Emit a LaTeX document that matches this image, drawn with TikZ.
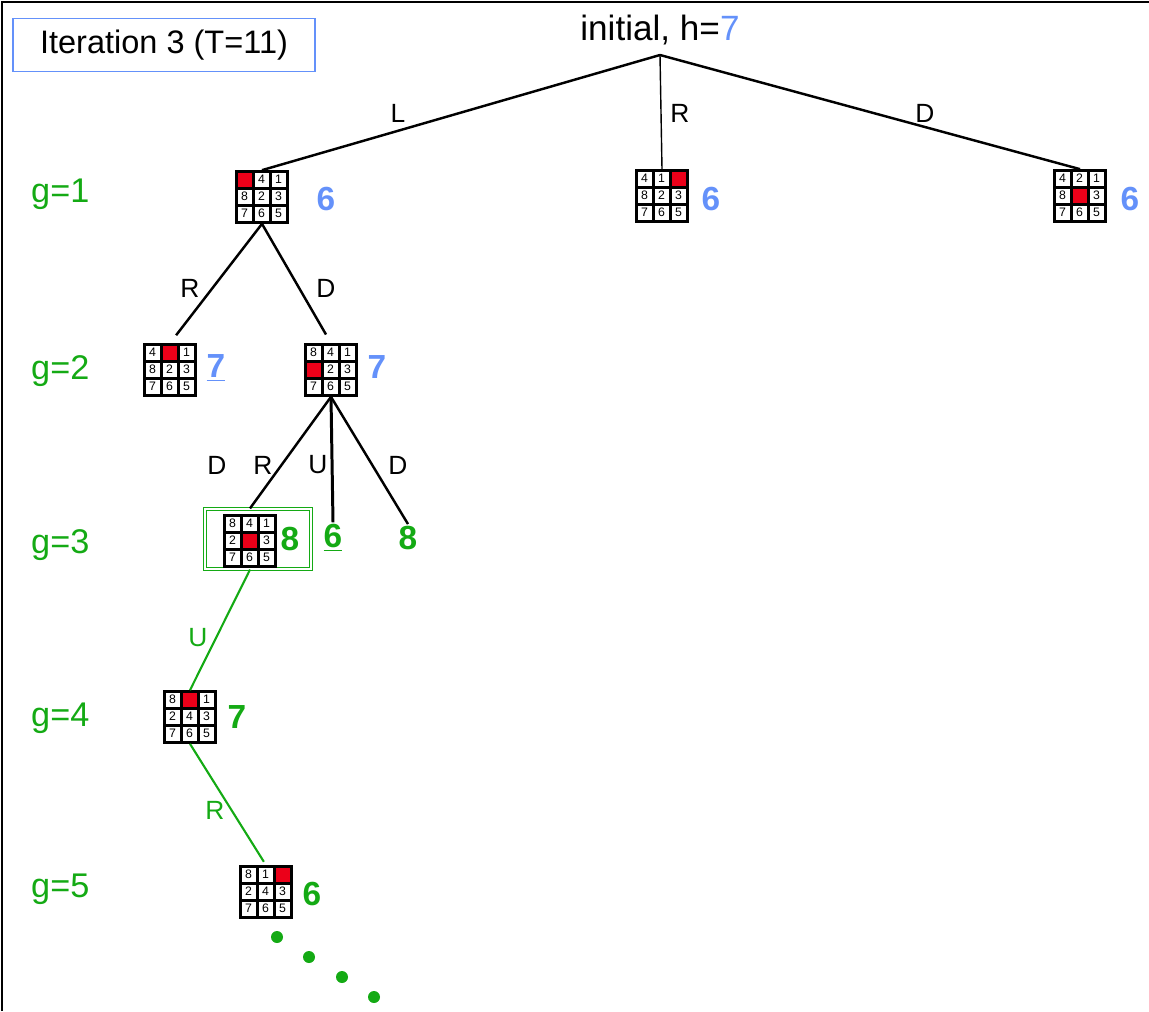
\documentclass[tikz,border=0pt]{standalone}
\usepackage{fontspec}
\setmainfont{Liberation Sans}
\usepackage{tikz}

\definecolor{hblue}{RGB}{100,145,250}
\definecolor{ggreen}{RGB}{20,170,20}
\definecolor{blankred}{RGB}{235,0,25}

\tikzset{
  board/.style={minimum size=1.06cm, inner sep=0pt},
  tile/.style={font=\fontsize{7}{7}\selectfont, inner sep=0pt},
  hval/.style={font=\fontsize{19}{19}\selectfont\bfseries, inner sep=1pt},
  glabel/.style={text=ggreen, font=\fontsize{19.5}{19.5}\selectfont, anchor=west},
  move/.style={font=\fontsize{15}{15}\selectfont},
  edge/.style={line width=1.4pt},
  gedge/.style={line width=1.2pt, ggreen},
}

% 8-puzzle board: position, name, tiles row by row (0 = blank)
\newcommand{\puzzle}[3]{
  \node[board] (#2) at (#1) {};
  \fill (#2.north west) rectangle (#2.south east);
  \begin{scope}[shift={(#2.north west)}]
    \foreach \piece [count=\k from 0] in {#3} {
      \pgfmathsetmacro{\cx}{2.5+17*mod(\k,3)}
      \pgfmathsetmacro{\cy}{2.5+17*div(\k,3)}
      \ifnum\piece=0
        \fill[blankred] (\cx,\cy) rectangle ++(14,14);
      \else
        \fill[white] (\cx,\cy) rectangle ++(14,14);
        \node[tile] at (\cx+7,\cy+7) {\piece};
      \fi
    }
  \end{scope}
}

\begin{document}
\begin{tikzpicture}[x=0.02cm, y=-0.02cm]
  \useasboundingbox (0,0) rectangle (1149,1011);
  % frame (top and left only)
  \draw[line width=1.2pt] (2,1011) -- (2,2) -- (1149,2);

  % title box and root
  \node[draw=hblue, line width=0.8pt, minimum width=6.04cm, minimum height=1.06cm,
        font=\fontsize{18.5}{18.5}\selectfont] (iter) at (164,45) {Iteration 3 (T=11)};
  \node[font=\fontsize{20}{20}\selectfont] (root) at (660,30) {initial, h=\textcolor{hblue}{7}};
  \coordinate (fork) at (660,55);

  % depth labels
  \node[glabel] (g1) at (25,194) {g=1};
  \node[glabel] (g2) at (25,371) {g=2};
  \node[glabel] (g3) at (25,545) {g=3};
  \node[glabel] (g4) at (25,718) {g=4};
  \node[glabel] (g5) at (25,889) {g=5};

  % g=1
  \puzzle{262,197}{b1l}{0,4,1,8,2,3,7,6,5}
  \puzzle{662,196}{b1r}{4,1,0,8,2,3,7,6,5}
  \puzzle{1080,196}{b1d}{4,2,1,8,0,3,7,6,5}
  \node[hval, text=hblue] (v1l) at (326,199) {6};
  \node[hval, text=hblue] (v1r) at (711,199) {6};
  \node[hval, text=hblue] (v1d) at (1130,199) {6};
  \draw[edge] (fork) -- (b1l.north);
  \draw[line width=0.8pt] (fork) -- (b1r.north);
  \draw[edge] (fork) -- (b1d.north);
  \node[move] (mL) at (398,113) {L};
  \node[move] (mR) at (680,113) {R};
  \node[move] (mD) at (925,113) {D};

  % g=2
  \puzzle{170,370}{b2r}{4,0,1,8,2,3,7,6,5}
  \puzzle{331,370}{b2d}{8,4,1,0,2,3,7,6,5}
  \node[hval, text=hblue] (v2r) at (216,368) {\underline{7}};
  \node[hval, text=hblue] (v2d) at (377,367) {7};
  \draw[edge, shorten >=0.2cm] (b1l.south) -- (b2r.north);
  \draw[edge, shorten >=0.2cm] (b1l.south) -- (b2d.north);
  \node[move] (m2r) at (190,288) {R};
  \node[move] (m2d) at (326,288) {D};

  % g=3
  \node[draw=ggreen, line width=0.7pt, double=white, double distance=1.4pt,
        minimum width=2.12cm, minimum height=1.2cm] (focus) at (258,539) {};
  \puzzle{250,541}{b3}{8,4,1,2,0,3,7,6,5}
  \node[hval, text=ggreen] (v3r) at (290,539) {8};
  \node[hval, text=ggreen] (v3u) at (333,538) {\underline{6}};
  \node[hval, text=ggreen] (v3d) at (408,538) {8};
  \draw[edge] (b2d.south) -- (b3 |- focus.north);
  \draw[line width=1.7pt] (b2d.south) -- (v3u.north);
  \draw[edge] (b2d.south) -- (v3d.north);
  \node[move] (m3x) at (217,465) {D};
  \node[move] (m3r) at (263,465) {R};
  \node[move] (m3u) at (318,465) {U};
  \node[move] (m3d) at (398,465) {D};

  % g=4
  \puzzle{190,717}{b4}{8,0,1,2,4,3,7,6,5}
  \node[hval, text=ggreen] (v4) at (237,717) {7};
  \draw[gedge] (b3 |- focus.south) -- (b4.north);
  \node[move, text=ggreen] (m4u) at (198,638) {U};

  % g=5
  \puzzle{266,892}{b5}{8,1,0,2,4,3,7,6,5}
  \node[hval, text=ggreen] (v5) at (312,894) {6};
  \draw[gedge, shorten >=0.08cm] (b4.south) -- (b5.north);
  \node[move, text=ggreen] (m5r) at (215,810) {R};

  % more to come
  \foreach \dx/\dy in {277/937, 309/957, 342/977, 374/997}
    \fill[ggreen] (\dx,\dy) circle (6);
\end{tikzpicture}
\end{document}
